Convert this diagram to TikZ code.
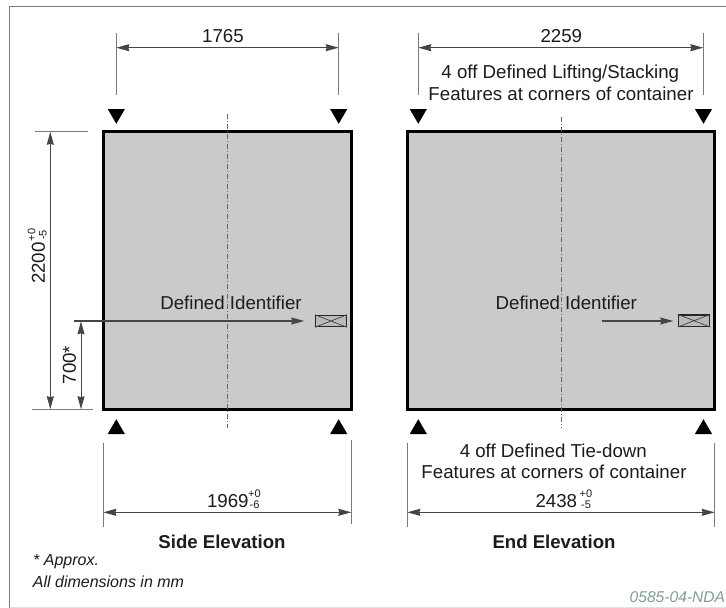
\documentclass[tikz,border=0pt]{standalone}
\usepackage{fontspec}
\setmainfont{Liberation Sans}
\usetikzlibrary{arrows.meta}
\definecolor{boxgrey}{HTML}{C9CBCA}
\definecolor{inkdark}{HTML}{1C1C1C}
\definecolor{linegrey}{HTML}{454545}
\definecolor{framegrey}{HTML}{7A7A7A}
\definecolor{tagteal}{HTML}{7F9F98}
\tikzset{
  x=1pt,y=-1pt,
  container/.style={draw=black,line width=3.6pt,fill=boxgrey,line join=miter},
  extline/.style={draw=framegrey,line width=1pt},
  dimline/.style={draw=linegrey,line width=1pt,{Stealth[length=13pt,width=7pt,inset=1pt]}-{Stealth[length=13pt,width=7pt,inset=1pt]}},
  leader/.style={draw=linegrey,line width=1.2pt,-{Stealth[length=13pt,width=7pt,inset=1pt]}},
  centreline/.style={draw=framegrey!85!black,line width=1pt,dash pattern=on 5pt off 2pt on 1pt off 2pt},
  dimtext/.style={inner sep=0pt,text=inkdark,font=\fontsize{18.7}{20}\selectfont},
  toltext/.style={inner sep=0pt,text=inkdark,font=\fontsize{11}{11}\selectfont},
  headtext/.style={inner sep=0pt,text=inkdark,font=\fontsize{18.6}{20}\selectfont\bfseries},
  notetext/.style={inner sep=0pt,anchor=west,text=inkdark,font=\fontsize{16}{18}\selectfont\itshape},
  idbox/.style={draw=black!85,fill=boxgrey!92!black,line width=1.1pt,minimum width=31pt,minimum height=11.5pt,inner sep=0pt},
  crossline/.style={draw=black!75,line width=0.7pt}
}
\begin{document}
\begin{tikzpicture}
\useasboundingbox (0,0) rectangle (726,608);
\fill[white] (0,0) rectangle (726,608);
% frame
\draw[framegrey,line width=1.1pt] (726,6.7) -- (9.5,6.7) -- (9.5,608);
\draw[black!12,line width=0.8pt] (9.5,607.3) -- (726,607.3);
% containers
\draw[container] (103.5,131.5) rectangle (351.5,409.3);
\draw[container] (407.4,131.5) rectangle (714.6,409.3);
% centre lines
\coordinate (c1t) at (227.7,114); \coordinate (c1b) at (227.7,428);
\coordinate (c2t) at (561.3,117); \coordinate (c2b) at (561.3,428);
\draw[centreline] (c1t) -- (c1b);
\draw[centreline] (c2t) -- (c2b);
% feature markers
\foreach \xx in {116.3,338.7,418.3,703.5}{
  \fill[black] (\xx-8.6,109) -- (\xx+8.6,109) -- (\xx,123.8) -- cycle;
  \fill[black] (\xx-8.6,434) -- (\xx+8.6,434) -- (\xx,419.2) -- cycle;
}
% top dims
\coordinate (a1) at (116.3,47.7); \coordinate (a2) at (338.7,47.7);
\coordinate (b1) at (418.3,47.7); \coordinate (b2) at (703.3,47.7);
\draw[extline] (116.3,32.5) -- (116.3,94.5);
\draw[extline] (338.7,32.5) -- (338.7,94.5);
\draw[extline] (418.3,32.5) -- (418.3,94.5);
\draw[extline] (703.3,32.5) -- (703.3,94.5);
\draw[dimline] (a1) -- (a2);
\draw[dimline] (b1) -- (b2);
\node[dimtext] (t1765) at (223,36) {1765};
\node[dimtext] (t2259) at (561.3,36) {2259};
\node[dimtext] (lift1) at (560.3,73.7) {4 off Defined Lifting/Stacking};
\node[dimtext] (lift2) at (561,94.3) {Features at corners of container};
% left dims
\draw[extline] (35,131.3) -- (88,131.3);
\draw[extline] (32.3,409.5) -- (93.3,409.5);
\coordinate (h1) at (50.3,131.8); \coordinate (h2) at (50.3,409.2);
\coordinate (k1) at (81,321.3); \coordinate (k2) at (81,409.2);
\draw[dimline] (h1) -- (h2);
\draw[dimline] (k1) -- (k2);
\node[dimtext,rotate=90] (t2200) at (38.5,263) {2200};
\node[toltext,rotate=90] (t2200p) at (31.5,235) {+0};
\node[toltext,rotate=90] (t2200m) at (43,235) {-5};
\node[dimtext,rotate=90] (t700) at (69.5,365) {700*};
% identifiers
\node[idbox] (id1) at (331,321) {};
\node[idbox] (id2) at (694,320.7) {};
\draw[crossline] (id1.north west) -- (id1.south east) (id1.south west) -- (id1.north east);
\draw[crossline] (id2.north west) -- (id2.south east) (id2.south west) -- (id2.north east);
\coordinate (l1) at (74,321); \coordinate (l2) at (601.7,321);
\draw[leader] (l1) -- (304.3,321);
\draw[leader] (l2) -- (673.3,321);
\node[dimtext] (def1) at (231,302.7) {Defined Identifier};
\node[dimtext] (def2) at (566.3,302.7) {Defined Identifier};
% bottom dims
\draw[extline] (103.3,442.7) -- (103.3,527);
\draw[extline] (351.3,440) -- (351.3,524);
\draw[extline] (407.3,442.7) -- (407.3,527.3);
\draw[extline] (714.7,443) -- (714.7,527.3);
\coordinate (s1) at (103.3,512.3); \coordinate (s2) at (351.3,512.3);
\coordinate (e1) at (407.3,512.3); \coordinate (e2) at (714.7,512.3);
\draw[dimline] (s1) -- (s2);
\draw[dimline] (e1) -- (e2);
\node[dimtext] (t1969) at (227.8,501.5) {1969};
\node[toltext] (t1969p) at (254.5,494) {+0};
\node[toltext] (t1969m) at (254.5,504.5) {-6};
\node[dimtext] (t2438) at (556.3,501.5) {2438};
\node[toltext] (t2438p) at (586,494) {+0};
\node[toltext] (t2438m) at (586,504.5) {-5};
\node[dimtext] (tie1) at (553.3,450.7) {4 off Defined Tie-down};
\node[dimtext] (tie2) at (554,471.7) {Features at corners of container};
% captions
\node[headtext] (side) at (222,542) {Side Elevation};
\node[headtext] (end) at (554,542) {End Elevation};
\node[notetext] (n1) at (33,561.7) {* Approx.};
\node[notetext] (n2) at (32.7,581.7) {All dimensions in mm};
\node[inner sep=0pt,anchor=east,text=tagteal,font=\fontsize{15.6}{18}\selectfont\itshape] (code) at (725.3,596.7) {0585-04-NDA};
\end{tikzpicture}
\end{document}
